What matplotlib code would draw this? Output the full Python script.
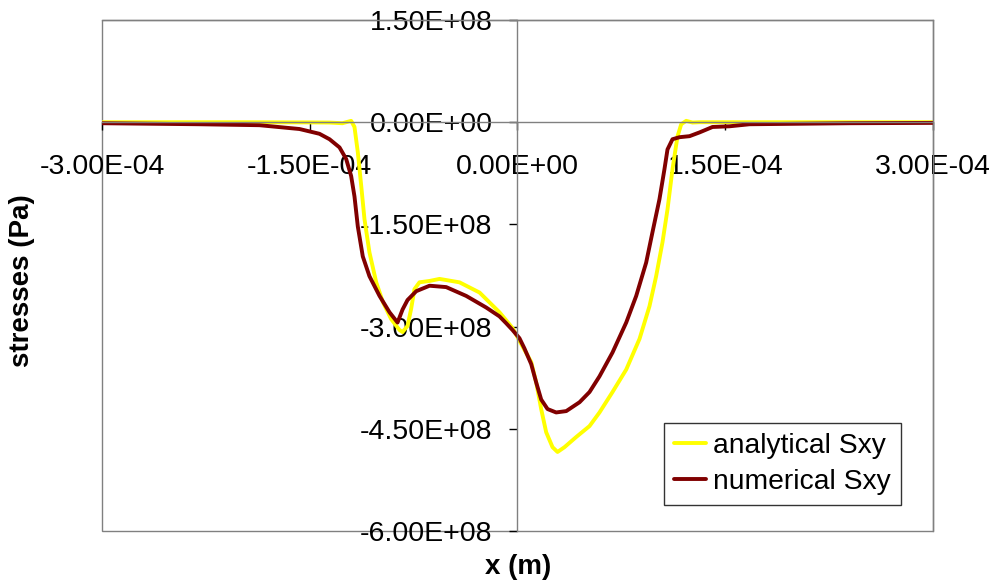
import matplotlib
matplotlib.use("Agg")
import matplotlib.pyplot as plt
from matplotlib.patches import Rectangle
import numpy as np

plt.rcParams['font.family'] = ['Liberation Sans', 'DejaVu Sans']

# analytical Sxy (x in 1e-4 m, stress in 1e8 Pa)
x_analytical = [-3.0, -2.0, -1.5, -1.357, -1.264, -1.201, -1.177, -1.153, -1.128, -1.105,
                -1.069, -1.020, -0.972, -0.912, -0.852, -0.830, -0.794, -0.768, -0.744,
                -0.708, -0.635, -0.563, -0.419, -0.274, -0.130, -0.036, 0.036, 0.099,
                0.135, 0.171, 0.207, 0.253, 0.289, 0.339, 0.424, 0.520, 0.592, 0.686,
                0.785, 0.881, 0.953, 1.001, 1.047, 1.083, 1.119, 1.155, 1.182, 1.218,
                1.264, 1.314, 2.0, 3.0]
s_analytical = [0.0, 0.0, -0.003, -0.005, -0.015, 0.02, -0.07, -0.44, -0.94, -1.42,
                -1.91, -2.35, -2.64, -2.89, -3.05, -3.08, -2.99, -2.74, -2.45,
                -2.35, -2.33, -2.30, -2.35, -2.50, -2.79, -3.02, -3.29, -3.52,
                -3.82, -4.21, -4.55, -4.77, -4.84, -4.77, -4.62, -4.46, -4.26, -3.96,
                -3.63, -3.18, -2.70, -2.26, -1.76, -1.28, -0.69, -0.21, -0.03, 0.02,
                -0.005, 0.0, 0.0, 0.0]

# numerical Sxy
x_numerical = [-3.0, -2.296, -1.863, -1.574, -1.430, -1.357, -1.285, -1.237, -1.201, -1.177,
               -1.153, -1.117, -1.069, -0.996, -0.924, -0.866, -0.830, -0.794, -0.731,
               -0.635, -0.515, -0.370, -0.226, -0.130, -0.082, -0.036, 0.014, 0.050,
               0.099, 0.135, 0.171, 0.217, 0.279, 0.352, 0.448, 0.520, 0.592, 0.686,
               0.785, 0.857, 0.929, 0.975, 1.025, 1.061, 1.083, 1.119, 1.170, 1.242,
               1.314, 1.408, 1.531, 1.675, 2.4, 3.0]
s_numerical = [-0.015, -0.03, -0.044, -0.10, -0.17, -0.25, -0.37, -0.54, -0.79, -1.09,
               -1.53, -1.97, -2.26, -2.55, -2.79, -2.94, -2.75, -2.61, -2.48,
               -2.40, -2.42, -2.55, -2.72, -2.85, -2.95, -3.05, -3.17, -3.32,
               -3.55, -3.82, -4.07, -4.21, -4.26, -4.24, -4.11, -3.96, -3.73, -3.38,
               -2.94, -2.55, -2.06, -1.61, -1.13, -0.69, -0.40, -0.25, -0.22, -0.205,
               -0.15, -0.07, -0.06, -0.03, -0.015, -0.01]

x_ticks = [-3e-4, -1.5e-4, 0.0, 1.5e-4, 3e-4]
y_ticks = [1.5e8, 0.0, -1.5e8, -3e8, -4.5e8, -6e8]

fig = plt.figure(figsize=(9.95, 5.85), dpi=100)
ax = fig.add_axes([0.1025, 0.0923, 0.8352, 0.8735])

ax.plot(np.array(x_analytical) * 1e-4, np.array(s_analytical) * 1e8,
        color='#FFFF00', lw=2.8, label='analytical Sxy',
        solid_joinstyle='round', solid_capstyle='round')
ax.plot(np.array(x_numerical) * 1e-4, np.array(s_numerical) * 1e8,
        color='#800000', lw=2.8, label='numerical Sxy',
        solid_joinstyle='round', solid_capstyle='round')

ax.set_xlim(-3e-4, 3e-4)
ax.set_ylim(-6e8, 1.5e8)
ax.set_xticks(x_ticks)
ax.set_yticks(y_ticks)
ax.set_xticklabels(['%.2E' % v for v in x_ticks])
ax.set_yticklabels(['%.2E' % v for v in y_ticks])

grey = '#808080'
ax.spines['left'].set_position(('data', 0))
ax.spines['bottom'].set_position(('data', 0))
for s in ax.spines.values():
    s.set_color(grey)
    s.set_linewidth(1.0)
ax.add_patch(Rectangle((0, 0), 1, 1, transform=ax.transAxes, fill=False,
                       edgecolor=grey, lw=1.0, clip_on=False, zorder=0.5))

ax.tick_params(axis='both', direction='out', length=6, width=1, color='black',
               labelsize=20.5)
ax.tick_params(axis='x', pad=17)
ax.tick_params(axis='y', pad=12)
ax.set_zorder(1)

fig.text(0.5205, 0.031, 'x (m)', ha='center', va='center', fontsize=20, fontweight='bold')
fig.text(0.022, 0.52, 'stresses (Pa)', ha='center', va='center', rotation=90,
         fontsize=20, fontweight='bold')

leg = ax.legend(loc='upper left', bbox_to_anchor=(664 / 995, 1 - 423 / 585),
                bbox_transform=fig.transFigure, borderaxespad=0, fontsize=20.3,
                frameon=True, fancybox=False, handlelength=1.15, handletextpad=0.25,
                borderpad=0.35, labelspacing=0.35)
leg.get_frame().set_edgecolor('black')
leg.get_frame().set_linewidth(1.0)

fig.savefig('out.png', dpi=100)
